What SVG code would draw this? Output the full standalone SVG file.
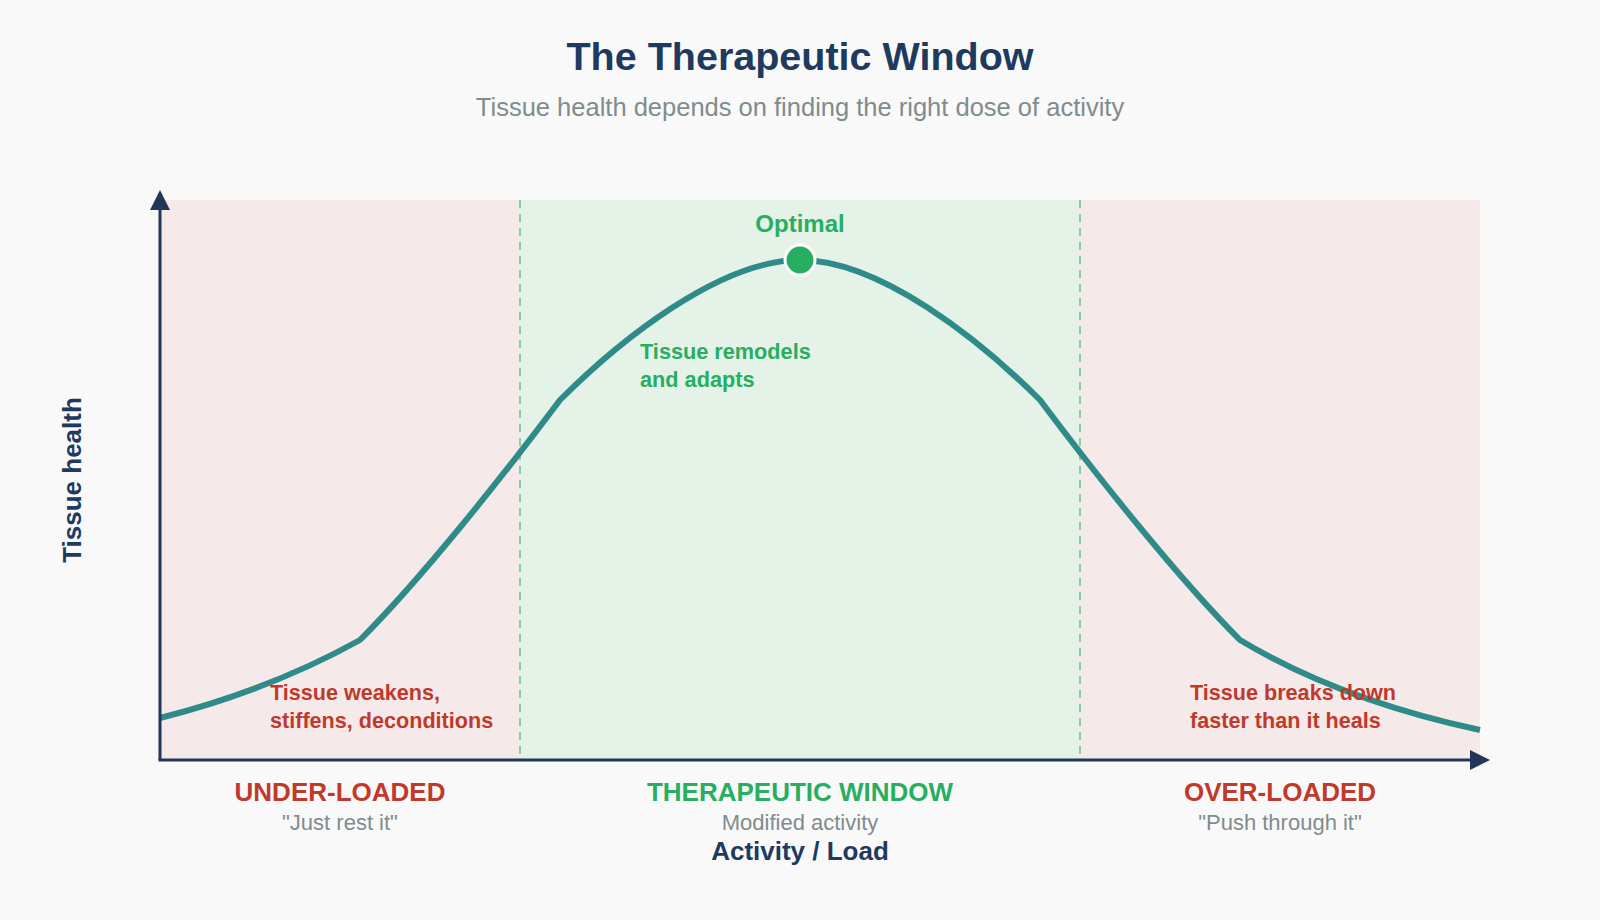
<svg xmlns="http://www.w3.org/2000/svg" width="1600" height="920" viewBox="0 0 1600 920">
  <style>
    .title { font-family: "Liberation Sans", Arial, sans-serif; font-weight: bold; font-size: 39.5px; fill: #1e3a5f; text-anchor: middle; }
    .subtitle { font-family: "Liberation Sans", Arial, sans-serif; font-size: 25.5px; fill: #7f8c8d; text-anchor: middle; }
    .zone-red { font-family: "Liberation Sans", Arial, sans-serif; font-weight: bold; font-size: 26px; fill: #c0392b; text-anchor: middle; }
    .zone-green { font-family: "Liberation Sans", Arial, sans-serif; font-weight: bold; font-size: 26px; fill: #27ae60; text-anchor: middle; }
    .zone-sub { font-family: "Liberation Sans", Arial, sans-serif; font-size: 22px; fill: #7f8c8d; text-anchor: middle; }
    .axis-label { font-family: "Liberation Sans", Arial, sans-serif; font-weight: bold; font-size: 26px; fill: #1e3a5f; text-anchor: middle; }
    .note-red { font-family: "Liberation Sans", Arial, sans-serif; font-weight: bold; font-size: 21.6px; fill: #c0392b; }
    .note-green { font-family: "Liberation Sans", Arial, sans-serif; font-weight: bold; font-size: 21.7px; fill: #27ae60; }
    .optimal { font-family: "Liberation Sans", Arial, sans-serif; font-weight: bold; font-size: 24px; fill: #27ae60; text-anchor: middle; }
    .divider { stroke: #86cfa2; stroke-width: 2; stroke-dasharray: 8 6; fill: none; }
    .axis { stroke: #22365a; stroke-width: 3; fill: none; }
    .curve { stroke: #2e8b8a; stroke-width: 6; fill: none; stroke-linejoin: round; }
  </style>
  <defs>
    <marker id="arrow" viewBox="0 0 20 20" refX="0" refY="10" markerWidth="20" markerHeight="20" markerUnits="userSpaceOnUse" orient="auto">
      <path d="M0,0 L20,10 L0,20 Z" fill="#22365a"/>
    </marker>
  </defs>

  <rect width="1600" height="920" fill="#f9f9f9"/>

  <g id="title">
    <text class="title" x="800" y="70">The Therapeutic Window</text>
    <text class="subtitle" x="800" y="116">Tissue health depends on finding the right dose of activity</text>
  </g>

  <g id="zones">
    <rect id="zone-under" x="160" y="200" width="360" height="560" fill="#f5e9e9"/>
    <rect id="zone-therapeutic" x="520" y="200" width="560" height="560" fill="#e4f2e8"/>
    <rect id="zone-over" x="1080" y="200" width="400" height="560" fill="#f5e9e9"/>
    <line class="divider" x1="520" y1="200" x2="520" y2="760"/>
    <line class="divider" x1="1080" y1="200" x2="1080" y2="760"/>
  </g>

  <g id="connectors">
    <path id="curve" class="curve" d="M160,718 Q270,690 360,640 C420,580 500,480 560,400 C620,340 720,260 800,260 C880,260 980,340 1040,400 C1100,480 1180,580 1240,640 Q1340,700 1480,730"/>
    <line id="y-axis" class="axis" x1="160" y1="760" x2="160" y2="210" marker-end="url(#arrow)"/>
    <line id="x-axis" class="axis" x1="158.5" y1="760" x2="1470" y2="760" marker-end="url(#arrow)"/>
  </g>

  <g id="optimal-point">
    <circle cx="800" cy="260" r="15" fill="#27ae60" stroke="#ffffff" stroke-width="3"/>
    <text class="optimal" x="800" y="232">Optimal</text>
  </g>

  <g id="note-under">
    <text class="note-red" x="270" y="700">Tissue weakens,</text>
    <text class="note-red" x="270" y="728">stiffens, deconditions</text>
  </g>
  <g id="note-therapeutic">
    <text class="note-green" x="640" y="359">Tissue remodels</text>
    <text class="note-green" x="640" y="387">and adapts</text>
  </g>
  <g id="note-over">
    <text class="note-red" x="1190" y="700">Tissue breaks down</text>
    <text class="note-red" x="1190" y="728">faster than it heals</text>
  </g>

  <g id="label-under">
    <text class="zone-red" x="340" y="801">UNDER-LOADED</text>
    <text class="zone-sub" x="340" y="830">"Just rest it"</text>
  </g>
  <g id="label-therapeutic">
    <text class="zone-green" x="800" y="801">THERAPEUTIC WINDOW</text>
    <text class="zone-sub" x="800" y="830">Modified activity</text>
  </g>
  <g id="label-over">
    <text class="zone-red" x="1280" y="801">OVER-LOADED</text>
    <text class="zone-sub" x="1280" y="830">"Push through it"</text>
  </g>

  <g id="axis-labels">
    <text class="axis-label" x="800" y="860">Activity / Load</text>
    <text class="axis-label" transform="translate(81,480) rotate(-90)" x="0" y="0">Tissue health</text>
  </g>
</svg>
